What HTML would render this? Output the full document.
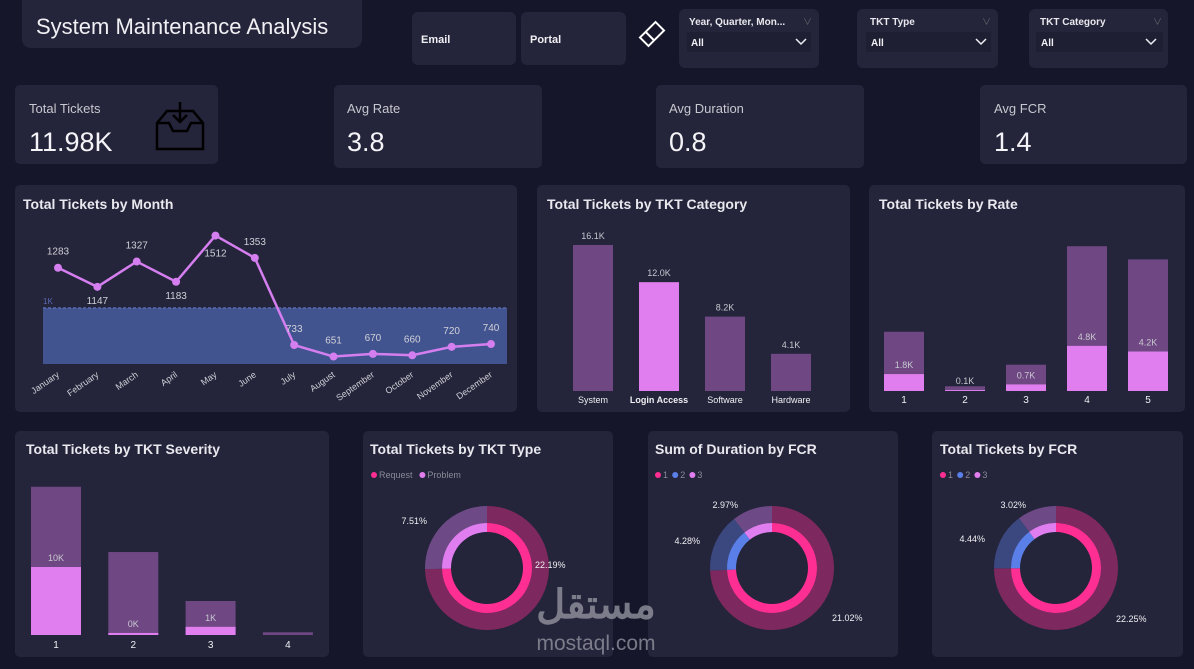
<!DOCTYPE html>
<html><head><meta charset="utf-8">
<style>
html,body{margin:0;padding:0;background:#15162a;width:1194px;height:669px;overflow:hidden;font-family:"Liberation Sans","Noto Sans CJK SC",sans-serif;}
svg{display:block}
text{font-family:"Liberation Sans","Noto Sans CJK SC",sans-serif}
</style></head>
<body>
<svg id="s" width="1194" height="669" viewBox="0 0 1194 669" xmlns="http://www.w3.org/2000/svg">
<rect x="0" y="0" width="1194" height="669" fill="#15162a"/>
<!-- header -->
<rect x="22" y="-10" width="340" height="58" rx="9" fill="#24243a"/>
<text x="36" y="34" font-size="22" fill="#f0f0f4">System Maintenance Analysis</text>
<g><rect x="412" y="12" width="104" height="53" rx="6" fill="#24243a"/><text x="421" y="43" font-size="11" font-weight="bold" fill="#f0f0f4">Email</text></g>
<g><rect x="521" y="12" width="105" height="53" rx="6" fill="#24243a"/><text x="530" y="43" font-size="11" font-weight="bold" fill="#f0f0f4">Portal</text></g>
<g transform="translate(652,34) rotate(-45)"><rect x="-11" y="-6" width="22" height="12" fill="none" stroke="#fff" stroke-width="2"/><line x1="-3" y1="-6" x2="-3" y2="6" stroke="#fff" stroke-width="2"/></g>
<g><rect x="679" y="9" width="140" height="59" rx="6" fill="#24243a"/><text x="689" y="25" font-size="10" font-weight="bold" fill="#e8e8ee">Year, Quarter, Mon...</text><text x="803" y="25" font-size="9" fill="#666">∨</text><rect x="687" y="32" width="124" height="20" fill="#1f1f33"/><text x="691" y="46" font-size="10" font-weight="bold" fill="#f0f0f4">All</text><path d="M796 39 l5 5 l5 -5" fill="none" stroke="#f0f0f4" stroke-width="1.5"/></g>
<g><rect x="857" y="9" width="141" height="59" rx="6" fill="#24243a"/><text x="870" y="25" font-size="10" font-weight="bold" fill="#e8e8ee">TKT Type</text><text x="982" y="25" font-size="9" fill="#666">∨</text><rect x="866" y="32" width="125" height="20" fill="#1f1f33"/><text x="871" y="46" font-size="10" font-weight="bold" fill="#f0f0f4">All</text><path d="M976 39 l5 5 l5 -5" fill="none" stroke="#f0f0f4" stroke-width="1.5"/></g>
<g><rect x="1029" y="9" width="139" height="59" rx="6" fill="#24243a"/><text x="1040" y="25" font-size="10" font-weight="bold" fill="#e8e8ee">TKT Category</text><text x="1153" y="25" font-size="9" fill="#666">∨</text><rect x="1036" y="32" width="127" height="20" fill="#1f1f33"/><text x="1041" y="46" font-size="10" font-weight="bold" fill="#f0f0f4">All</text><path d="M1146 39 l5 5 l5 -5" fill="none" stroke="#f0f0f4" stroke-width="1.5"/></g>
<!-- KPI cards -->
<g><rect x="15" y="85" width="203" height="79" rx="5" fill="#24243a"/><text x="29" y="113" font-size="13" fill="#c8c8d0">Total Tickets</text><text x="29" y="151" font-size="27" fill="#f4f4f8">11.98K</text>
<g fill="none" stroke="#000" stroke-width="2.5"><path d="M157 123 l10 -12 h26 l10 12 v26 h-46 z"/><path d="M157 123 h12 l4 8 h14 l4 -8 h12"/><path d="M180 102 v20 M173 115 l7 7 l7 -7"/></g></g>
<g><rect x="334" y="85" width="208" height="83" rx="5" fill="#24243a"/><text x="347" y="113" font-size="13" fill="#c8c8d0">Avg Rate</text><text x="347" y="151" font-size="27" fill="#f4f4f8">3.8</text></g>
<g><rect x="656" y="85" width="208" height="83" rx="5" fill="#24243a"/><text x="669" y="113" font-size="13" fill="#c8c8d0">Avg Duration</text><text x="669" y="151" font-size="27" fill="#f4f4f8">0.8</text></g>
<g><rect x="980" y="85" width="207" height="79" rx="5" fill="#24243a"/><text x="994" y="113" font-size="13" fill="#c8c8d0">Avg FCR</text><text x="994" y="151" font-size="27" fill="#f4f4f8">1.4</text></g>
<!-- chart cards -->
<rect x="15" y="185" width="502" height="227" rx="5" fill="#24243a"/>
<text x="23" y="209" font-size="14" font-weight="bold" fill="#e8e8ee">Total Tickets by Month</text>
<rect x="537" y="185" width="313" height="227" rx="5" fill="#24243a"/>
<text x="547" y="209" font-size="14" font-weight="bold" fill="#e8e8ee">Total Tickets by TKT Category</text>
<rect x="869" y="185" width="316" height="227" rx="5" fill="#24243a"/>
<text x="879" y="209" font-size="14" font-weight="bold" fill="#e8e8ee">Total Tickets by Rate</text>
<rect x="15" y="431" width="314" height="226" rx="5" fill="#24243a"/>
<text x="26" y="454" font-size="14" font-weight="bold" fill="#e8e8ee">Total Tickets by TKT Severity</text>
<rect x="363" y="431" width="250" height="226" rx="5" fill="#24243a"/>
<text x="370" y="454" font-size="14" font-weight="bold" fill="#e8e8ee">Total Tickets by TKT Type</text>
<rect x="648" y="431" width="250" height="226" rx="5" fill="#24243a"/>
<text x="655" y="454" font-size="14" font-weight="bold" fill="#e8e8ee">Sum of Duration by FCR</text>
<rect x="932" y="431" width="251" height="226" rx="5" fill="#24243a"/>
<text x="940" y="454" font-size="14" font-weight="bold" fill="#e8e8ee">Total Tickets by FCR</text>
<g id="charts"></g>
<g fill="#9a9aa6" opacity="0.75">
<text x="596" y="618" font-size="40" font-weight="bold" text-anchor="middle" font-family="'Noto Sans CJK SC',sans-serif">مستقل</text>
<text x="596" y="650" font-size="21" text-anchor="middle">mostaql.com</text></g>
</svg>
<script>
const months=["January","February","March","April","May","June","July","August","September","October","November","December"];
const monthTickets=[1283,1147,1327,1183,1512,1353,733,651,670,660,720,740];
const monthTarget=1000;
const categories=["System","Login Access","Software","Hardware"];
const categoryTickets=[16.1,12.0,8.2,4.1];
const rates=["1","2","3","4","5"];
const rateTotal=[6.3,0.5,2.8,15.4,14.0];
const rateHighlight=[1.8,0.1,0.7,4.8,4.2];
const severities=["1","2","3","4"];
const severityTotal=[21.8,12.2,5.0,0.4];
const severityHighlight=[10,0.3,1.2,0];
const severityLabels=["10K","0K","1K",""];
const typeNames=["Request","Problem"];
const typeValues=[22.19,7.51];
const fcrNames=["1","2","3"];
const durationFcr=[21.02,4.28,2.97];
const ticketsFcr=[22.25,4.44,3.02];

const NS="http://www.w3.org/2000/svg";
const G=document.getElementById('charts');
function el(tag,attrs,parent){const e=document.createElementNS(NS,tag);for(const k in attrs)e.setAttribute(k,attrs[k]);(parent||G).appendChild(e);return e;}
function txt(x,y,s,size,fill,anchor,parent,extra){const t=el('text',Object.assign({x:x,y:y,'font-size':size,fill:fill,'text-anchor':anchor||'middle'},extra||{}),parent);t.textContent=s;return t;}

// Month chart
(function(){
  const x0=58,x1=491,n=months.length;
  const xs=i=>x0+(x1-x0)*i/(n-1);
  const yLine=v=>448-v*0.1405;
  const yBand=v=>364-v*0.056;
  const band=el('rect',{x:43,y:yBand(monthTarget),width:464,height:364-yBand(monthTarget),fill:'#42548f'});
  
  
  const bl=el('line',{x1:43,x2:507,y1:yBand(monthTarget),y2:yBand(monthTarget),stroke:'#5a6ab0','stroke-dasharray':'3,2','stroke-width':1.5});
  
  
  const tl=txt(43,304,'1K',8,'#5a6ab0','start');
  
  
  const pts=monthTickets.map((v,i)=>xs(i)+','+yLine(v)).join(' ');
  const pl=el('polyline',{points:pts,fill:'none',stroke:'#d57ef0','stroke-width':2.5,'stroke-linejoin':'round'});
  
  
  monthTickets.forEach((v,i)=>{
    const c=el('circle',{cx:xs(i),cy:yLine(v),r:4,fill:'#d57ef0'});
    
    
    const below=(i===1||i===3);
    const ly=below?yLine(v)+17:(i===4?yLine(v)+21:yLine(v)-13);
    const l=txt(xs(i),ly,String(v),10,'#d0d0d8');
    
    
    const m=txt(xs(i)+2,376,months[i],9,'#d0d0d8','end',null,{transform:'rotate(-35 '+(xs(i)+2)+' 376)'});
    
    
  });
})();

// Category chart
(function(){
  const base=391,k=9.07,w=40;
  categories.forEach((c,i)=>{
    const x=573+i*66,h=categoryTickets[i]*k;
    const r=el('rect',{x:x,y:base-h,width:w,height:h,fill:i===1?'#e07ef0':'#6f4883'});
    
    
    const l=txt(x+w/2,base-h-6,categoryTickets[i].toFixed(1)+'K',9,'#c8c8d0');
    
    
    const t=txt(x+w/2,403,c,9,'#f0f0f4','middle',null,i===1?{'font-weight':'bold'}:{});
    
    
  });
})();

// Rate chart
(function(){
  const base=391,k=9.4,w=40;
  rates.forEach((c,i)=>{
    const x=884+i*61,h=rateTotal[i]*k,hh=rateHighlight[i]*k;
    const r=el('rect',{x:x,y:base-h,width:w,height:h,fill:'#6f4883'});
    
    
    const r2=el('rect',{x:x,y:base-hh,width:w,height:hh,fill:'#e07ef0'});
    
    
    const l=txt(x+w/2,base-hh-6,rateHighlight[i].toFixed(1)+'K',9,'#c8c8d0');
    
    
    const t=txt(x+w/2,403,c,10,'#f0f0f4');
    
    
  });
})();

// Severity chart
(function(){
  const base=635,k=6.8,w=50;
  severities.forEach((c,i)=>{
    const x=31+i*77.3,h=severityTotal[i]*k,hh=severityHighlight[i]*k;
    const r=el('rect',{x:x,y:base-h,width:w,height:h,fill:'#6f4883'});
    
    
    if(hh>0){const r2=el('rect',{x:x,y:base-hh,width:w,height:hh,fill:'#e07ef0'});
    
    }
    if(severityLabels[i]){const l=txt(x+w/2,base-hh-6,severityLabels[i],9,'#c8c8d0');
    
    }
    const t=txt(x+w/2,648,c,10,'#f0f0f4');
    
    
  });
})();

// Donuts
function arc(cx,cy,r0,r1,a0,a1){
  const p=(r,a)=>[cx+r*Math.sin(a),cy-r*Math.cos(a)];
  const big=(a1-a0)>Math.PI?1:0;
  const [x1,y1]=p(r1,a0),[x2,y2]=p(r1,a1),[x3,y3]=p(r0,a1),[x4,y4]=p(r0,a0);
  return `M${x1} ${y1} A${r1} ${r1} 0 ${big} 1 ${x2} ${y2} L${x3} ${y3} A${r0} ${r0} 0 ${big} 0 ${x4} ${y4}Z`;
}
function donut(cx,cy,names,vals,outerCols,innerCols,prefix,labelPos){
  const tot=vals.reduce((a,b)=>a+b,0);let a=0;
  vals.forEach((v,i)=>{
    const a1=a+v/tot*2*Math.PI;
    const o=el('path',{d:arc(cx,cy,45,62,a,a1),fill:outerCols[i]});
    
    
    const inn=el('path',{d:arc(cx,cy,36,45,a,a1),fill:innerCols[i]});
    
    
    const lp=labelPos[i];
    const l=txt(lp[0],lp[1],v.toFixed(2)+'%',9,'#f0f0f4',lp[2]);
    
    
    a=a1;
  });
}
function legend(x,y,names,cols,prefix){
  let cx=x;
  names.forEach((n,i)=>{
    const c=el('circle',{cx:cx+3,cy:y-3,r:3,fill:cols[i]});
    
    
    const t=txt(cx+8,y,n,9,'#8a8a98','start');
    
    
    cx+=8+n.length*5.2+4;
  });
}
legend(371,478,typeNames,['#ff2e93','#e07ef0'],'type');
donut(487,568,typeNames,typeValues,['#7d285e','#6d4a85'],['#ff2e93','#e07ef0'],'type',[[535,568,'start'],[427,524,'end']]);
legend(655,478,fcrNames,['#ff2e93','#5b7fe8','#e07ef0'],'duration');
donut(772,568,fcrNames,durationFcr,['#7d285e','#3b4880','#6d4a85'],['#ff2e93','#5b7fe8','#e07ef0'],'duration',[[832,621,'start'],[700,544,'end'],[738,508,'end']]);
legend(940,478,fcrNames,['#ff2e93','#5b7fe8','#e07ef0'],'fcr');
donut(1056,568,fcrNames,ticketsFcr,['#7d285e','#3b4880','#6d4a85'],['#ff2e93','#5b7fe8','#e07ef0'],'fcr',[[1116,622,'start'],[985,542,'end'],[1026,508,'end']]);
</script>
</body></html>
